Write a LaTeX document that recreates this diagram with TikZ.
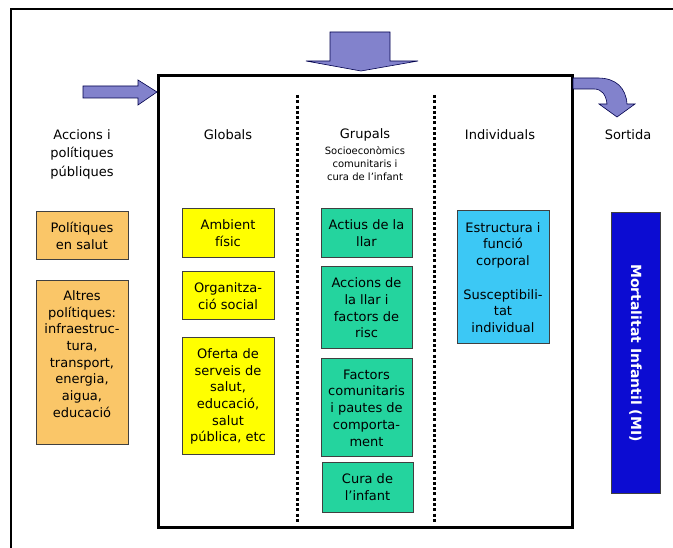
\documentclass[tikz,border=0pt]{standalone}
\usepackage{fontspec}
\setmainfont{DejaVu Sans}
\usetikzlibrary{positioning}
\definecolor{taronja}{RGB}{250,198,104}
\definecolor{groc}{RGB}{255,255,0}
\definecolor{verd}{RGB}{36,212,158}
\definecolor{cel}{RGB}{60,200,245}
\definecolor{blau}{RGB}{12,12,210}
\definecolor{lila}{RGB}{130,130,204}
\tikzset{
  caixa/.style={draw=black!75, line width=1pt, align=center, inner sep=2pt, font=\fontsize{13}{16.7}\selectfont},
  titol/.style={align=center, font=\fontsize{13}{18.5}\selectfont},
  subtitol/.style={align=center, inner sep=1pt, font=\fontsize{10}{13}\selectfont},
  fletxa/.style={draw=blue!30!black, line width=0.6pt, fill=lila},
  punts/.style={line width=3pt, dash pattern=on 3pt off 2.3pt},
}

\begin{document}
\begin{tikzpicture}[x=1pt,y=-1pt]
    \useasboundingbox (0,0) rectangle (673,548);
    \draw [line width=1.5pt] (673,9) -- (11,9) -- (11,548);
    \draw [line width=3pt] (158,76) rectangle (572,527);
    \draw [punts] (297,95) -- (297,524);
    \draw [punts] (434,95) -- (434,524);

    % fletxes
    \filldraw [fletxa] (83,86) -- (138,86) -- (138,80) -- (157,92) -- (138,105) -- (138,98) -- (83,98) -- cycle;
    \filldraw [fletxa] (330,32) -- (390,32) -- (390,61) -- (418,61) -- (361,71) -- (306,61) -- (330,61) -- cycle;
    \filldraw [fletxa] (573,78) -- (598,78) .. controls (616,78) and (626,88) .. (627,104) -- (635,104)
        -- (617,117) -- (599,104) -- (607,104) .. controls (606,95) and (602,89) .. (594,89) -- (573,89) -- cycle;

    % titols
    \node[titol] (hacc) at (82,154) {Accions i\\polítiques\\públiques};
    \node[titol] (hglob) at (228,135) {Globals};
    \node[titol] (hgrup) at (365,135) {Grupals};
    \node[subtitol, below=0pt of hgrup] (hsub) {Socioeconòmics\\comunitaris i\\cura de l'infant};
    \node[titol] (hind) at (500,135) {Individuals};
    \node[titol] (hsort) at (628,135) {Sortida};

    % caixes
    \node[caixa, fill=taronja, minimum width=92, minimum height=48] (pol) at (82,236) {Polítiques\\en salut};
    \node[caixa, fill=taronja, minimum width=92, minimum height=164] (altres) at (82,363) {};
    \node[caixa, draw=none] (altrestext) at (82,354)
        {Altres\\polítiques:\\infraestruc-\\tura,\\transport,\\energia,\\aigua,\\educació};
    \node[caixa, fill=groc, minimum width=92, minimum height=49] (amb) at (228,233.5) {Ambient\\físic};
    \node[caixa, fill=groc, minimum width=92, minimum height=48] (org) at (228,296) {Organitza-\\ció social};
    \node[caixa, fill=groc, minimum width=92, minimum height=117] (ofe) at (228,396.5)
        {Oferta de\\serveis de\\salut,\\educació,\\salut\\pública, etc};
    \node[caixa, fill=verd, minimum width=91, minimum height=49] (act) at (366.5,233.5) {Actius de la\\llar};
    \node[caixa, fill=verd, minimum width=91, minimum height=82] (acc) at (366.5,308) {Accions de\\la llar i\\factors de\\risc};
    \node[caixa, fill=verd, minimum width=91, minimum height=98] (fac) at (366.5,408)
        {Factors\\comunitaris\\i pautes de\\comporta-\\ment};
    \node[caixa, fill=verd, minimum width=91, minimum height=49] (cura) at (367.5,487.5) {Cura de\\l’infant};
    \node[caixa, fill=cel, minimum width=92, minimum height=133] (est) at (503,277.5)
        {Estructura i\\funció\\corporal\\[16.7pt]Susceptibili-\\tat\\individual};
    \node[caixa, fill=blau, minimum width=49, minimum height=280] (mi) at (635.5,353) {};
    \node[rotate=-90, text=white, font=\fontsize{14}{16}\selectfont\bfseries] (mitext) at (mi.center) {Mortalitat Infantil (MI)};
\end{tikzpicture}
\end{document}
